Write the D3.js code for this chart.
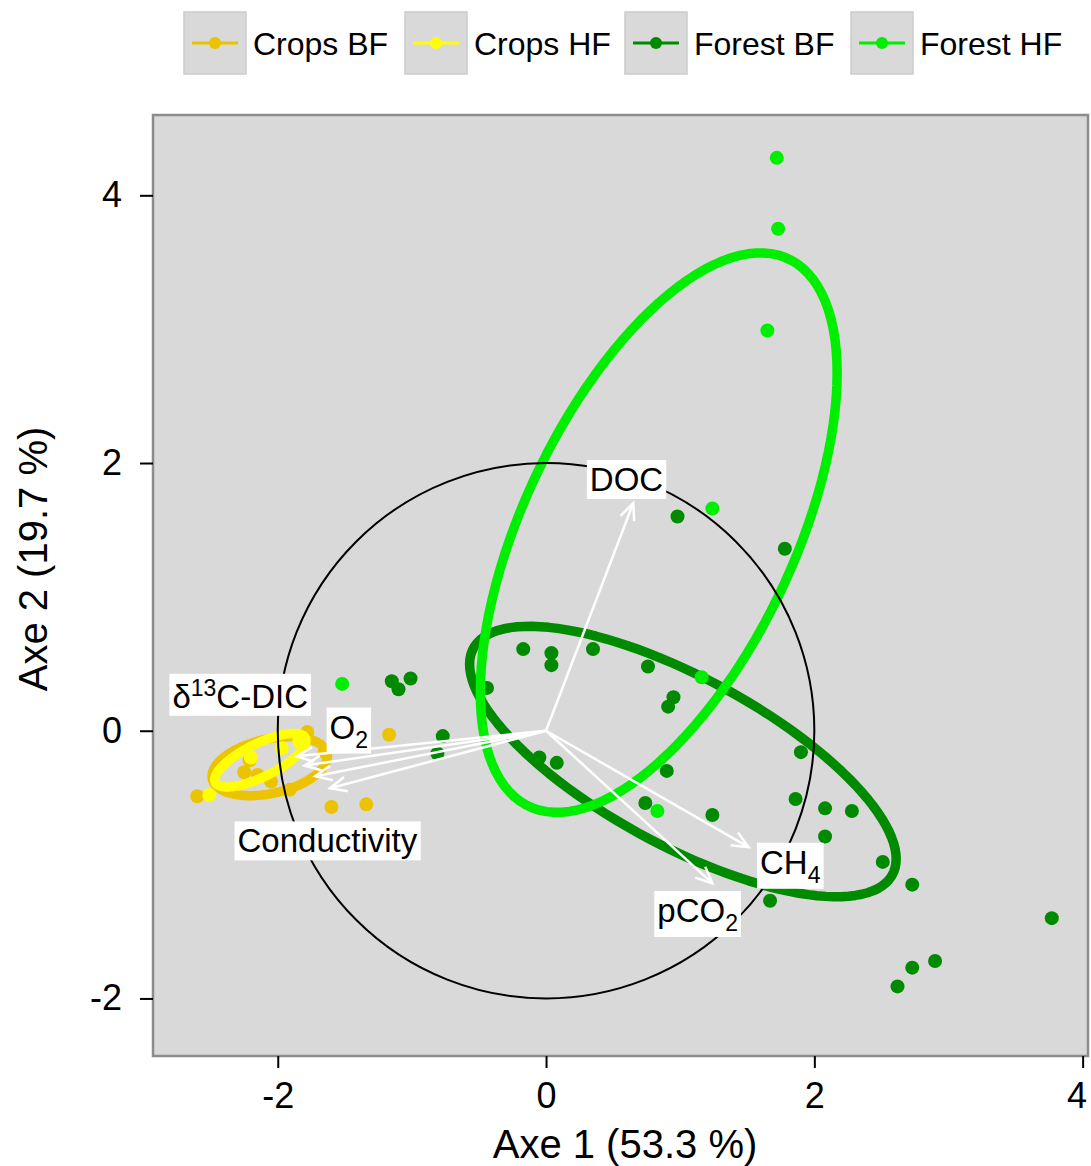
<!DOCTYPE html>
<html>
<head>
<meta charset="utf-8">
<script src="https://cdn.jsdelivr.net/npm/d3@7"></script>
<style>
  body { margin: 0; background: #fff; }
  svg { font-family: "Liberation Sans", Arial, sans-serif; }
</style>
</head>
<body>
<div id="chart"></div>
<script>
// groups and colours
const groups = ["Crops BF", "Crops HF", "Forest BF", "Forest HF"];
const groupColors = ["#EBC300", "#FFFF00", "#008A00", "#00EE00"];

// site scores (Axe 1, Axe 2) for each group
const cropsBF = [[-2.60, -0.49], [-2.21, -0.22], [-2.25, -0.31], [-2.15, -0.33], [-1.91, -0.44],
  [-1.78, -0.01], [-1.65, -0.16], [-1.60, -0.57], [-1.34, -0.55], [-1.17, -0.03], [-2.05, -0.38]];
const cropsHF = [[-2.51, -0.48], [-1.84, -0.08], [-2.20, -0.20], [-1.97, -0.13]];
const forestBF = [[-1.15, 0.37], [-1.10, 0.31], [-1.01, 0.39], [-0.17, 0.61], [0.04, 0.58],
  [0.04, 0.49], [0.35, 0.61], [0.76, 0.48], [0.95, 0.25], [0.91, 0.18], [-0.44, 0.32],
  [-0.77, -0.04], [-0.81, -0.17], [-0.05, -0.20], [0.08, -0.24], [0.90, -0.30], [0.74, -0.54],
  [1.90, -0.16], [1.24, -0.63], [1.86, -0.51], [2.08, -0.58], [2.28, -0.60], [2.08, -0.79],
  [2.51, -0.98], [2.73, -1.15], [1.67, -1.27], [1.78, 1.36], [0.98, 1.60], [3.77, -1.40],
  [2.90, -1.72], [2.73, -1.77], [2.62, -1.91]];
const forestHF = [[1.72, 4.28], [1.73, 3.75], [1.65, 2.99], [1.24, 1.66], [-1.52, 0.35],
  [0.83, -0.60], [1.16, 0.40]];
const groupPoints = [cropsBF, cropsHF, forestBF, forestHF];

// ellipses: centre, half extents, correlation (one per group)
const ellCx = [-2.06, -2.13, 1.02, 0.84];
const ellCy = [-0.265, -0.22, -0.23, 1.48];
const ellSx = [0.43, 0.34, 1.59, 1.33];
const ellSy = [0.22, 0.20, 1.01, 2.09];
const ellR = [0.34, 0.73, -0.72, 0.57];

// variable arrows (tips) and labels
const varTipX = [0.65, 1.51, 1.24, -1.86, -1.80, -1.72, -1.61];
const varTipY = [1.70, -0.87, -1.14, -0.19, -0.26, -0.34, -0.43];
const varLabX = [0.60, 1.82, 1.13, -2.28, -1.47, null, -1.63];
const varLabY = [1.88, -0.98, -1.34, 0.26, 0.03, null, -0.82];
// label parts: [main, script, rest, type]
const varLabels = [
  ["DOC", "", "", ""],
  ["CH", "4", "", "sub"],
  ["pCO", "2", "", "sub"],
  ["δ", "13", "C-DIC", "sup"],
  ["O", "2", "", "sub"],
  null,
  ["Conductivity", "", "", ""]
];

const xTicks = [-2, 0, 2, 4];
const yTicks = [-2, 0, 2, 4];
const circleRadius = 2;

const width = 1091, height = 1166;
const svg = d3.select("#chart").append("svg")
  .attr("width", width).attr("height", height);

const x = d3.scaleLinear().domain([-2.93, 4.04]).range([153, 1088]);
const y = d3.scaleLinear().domain([-2.43, 4.6]).range([1056, 115]);

// panel
svg.append("rect")
  .attr("x", x.range()[0]).attr("y", y.range()[1])
  .attr("width", x.range()[1] - x.range()[0])
  .attr("height", y.range()[0] - y.range()[1])
  .attr("fill", "#D9D9D9");

const plot = svg.append("g");

// points + ellipses by group
const line = d3.line().x(d => x(d[0])).y(d => y(d[1])).curve(d3.curveLinearClosed);
groups.forEach((g, i) => {
  plot.append("g").selectAll("circle")
    .data(groupPoints[i]).enter().append("circle")
    .attr("cx", d => x(d[0])).attr("cy", d => y(d[1]))
    .attr("r", 7).attr("fill", groupColors[i]);

  const delta = Math.acos(ellR[i]);
  const pts = d3.range(0, 2 * Math.PI, Math.PI / 60).map(t => [
    ellCx[i] + ellSx[i] * Math.cos(t),
    ellCy[i] + ellSy[i] * Math.cos(t - delta)
  ]);
  plot.append("path")
    .attr("d", line(pts))
    .attr("fill", "none")
    .attr("stroke", groupColors[i])
    .attr("stroke-width", 9.5)
    .attr("stroke-linejoin", "round");
});

// correlation circle
plot.append("ellipse")
  .attr("cx", x(0)).attr("cy", y(0))
  .attr("rx", x(circleRadius) - x(0)).attr("ry", y(0) - y(circleRadius))
  .attr("fill", "none").attr("stroke", "#000").attr("stroke-width", 2);

// arrows
const arrows = plot.append("g").attr("stroke", "#fff").attr("stroke-width", 2.5).attr("fill", "none");
varTipX.forEach((tx, i) => {
  const x0 = x(0), y0 = y(0), x1 = x(tx), y1 = y(varTipY[i]);
  const ang = Math.atan2(y1 - y0, x1 - x0);
  const h = 18, a = 0.42;
  arrows.append("line").attr("x1", x0).attr("y1", y0).attr("x2", x1).attr("y2", y1);
  arrows.append("path").attr("d",
    `M${x1 - h * Math.cos(ang - a)},${y1 - h * Math.sin(ang - a)}L${x1},${y1}L${x1 - h * Math.cos(ang + a)},${y1 - h * Math.sin(ang + a)}`);
});

// labels with white boxes
const labG = plot.append("g");
varLabels.forEach((lab, i) => {
  if (!lab) return;
  const g = labG.append("g");
  const t = g.append("text")
    .attr("x", x(varLabX[i])).attr("y", y(varLabY[i]))
    .attr("text-anchor", "middle").attr("dy", "0.36em")
    .attr("font-size", 33).attr("fill", "#000");
  t.append("tspan").text(lab[0]);
  if (lab[3] === "sub") {
    t.append("tspan").attr("dy", 9).attr("font-size", 23).text(lab[1]);
  } else if (lab[3] === "sup") {
    t.append("tspan").attr("dy", -12).attr("font-size", 23).text(lab[1]);
    t.append("tspan").attr("dy", 12).text(lab[2]);
  }
  const bb = t.node().getBBox();
  g.insert("rect", "text")
    .attr("x", bb.x - 3).attr("y", bb.y - 1)
    .attr("width", bb.width + 6).attr("height", bb.height + 2)
    .attr("fill", "#fff");
});

// frame
svg.append("rect")
  .attr("x", x.range()[0]).attr("y", y.range()[1])
  .attr("width", x.range()[1] - x.range()[0])
  .attr("height", y.range()[0] - y.range()[1])
  .attr("fill", "none").attr("stroke", "#8C8C8C").attr("stroke-width", 2.5);

// axes
const xAxis = svg.append("g")
  .attr("transform", `translate(0,${y.range()[0]})`)
  .call(d3.axisBottom(x).tickValues(xTicks).tickFormat(d => String(d)).tickSize(12).tickPadding(14));
const yAxis = svg.append("g")
  .attr("transform", `translate(${x.range()[0]},0)`)
  .call(d3.axisLeft(y).tickValues(yTicks).tickFormat(d => String(d)).tickSize(13).tickPadding(18));
[xAxis, yAxis].forEach(a => {
  a.select(".domain").remove();
  a.selectAll(".tick line").attr("stroke", "#000").attr("stroke-width", 2);
  a.selectAll(".tick text").attr("font-size", 36).attr("fill", "#000")
    .attr("font-family", "'Liberation Sans', Arial, sans-serif");
});
// keep the last x tick label inside the page
xAxis.selectAll(".tick text").filter(d => d === xTicks[xTicks.length - 1]).attr("dx", -6);

// axis titles
svg.append("text")
  .attr("x", 625).attr("y", 1158)
  .attr("text-anchor", "middle").attr("font-size", 40)
  .text("Axe 1 (53.3 %)");
svg.append("text")
  .attr("transform", "translate(47,559) rotate(-90)")
  .attr("text-anchor", "middle").attr("font-size", 40)
  .text("Axe 2 (19.7 %)");

// legend
const legX = [184, 405, 625, 851];
const leg = svg.append("g");
groups.forEach((g, i) => {
  const lg = leg.append("g").attr("transform", `translate(${legX[i]},12)`);
  lg.append("rect").attr("width", 62).attr("height", 62)
    .attr("fill", "#D9D9D9").attr("stroke", "#CCCCCC").attr("stroke-width", 1.5);
  lg.append("line").attr("x1", 8).attr("x2", 54).attr("y1", 31).attr("y2", 31)
    .attr("stroke", groupColors[i]).attr("stroke-width", 3);
  lg.append("circle").attr("cx", 31).attr("cy", 31).attr("r", 6).attr("fill", groupColors[i]);
  lg.append("text").attr("x", 69).attr("y", 31).attr("dy", "0.36em")
    .attr("font-size", 32).attr("fill", "#000").text(g);
});
</script>
</body>
</html>
